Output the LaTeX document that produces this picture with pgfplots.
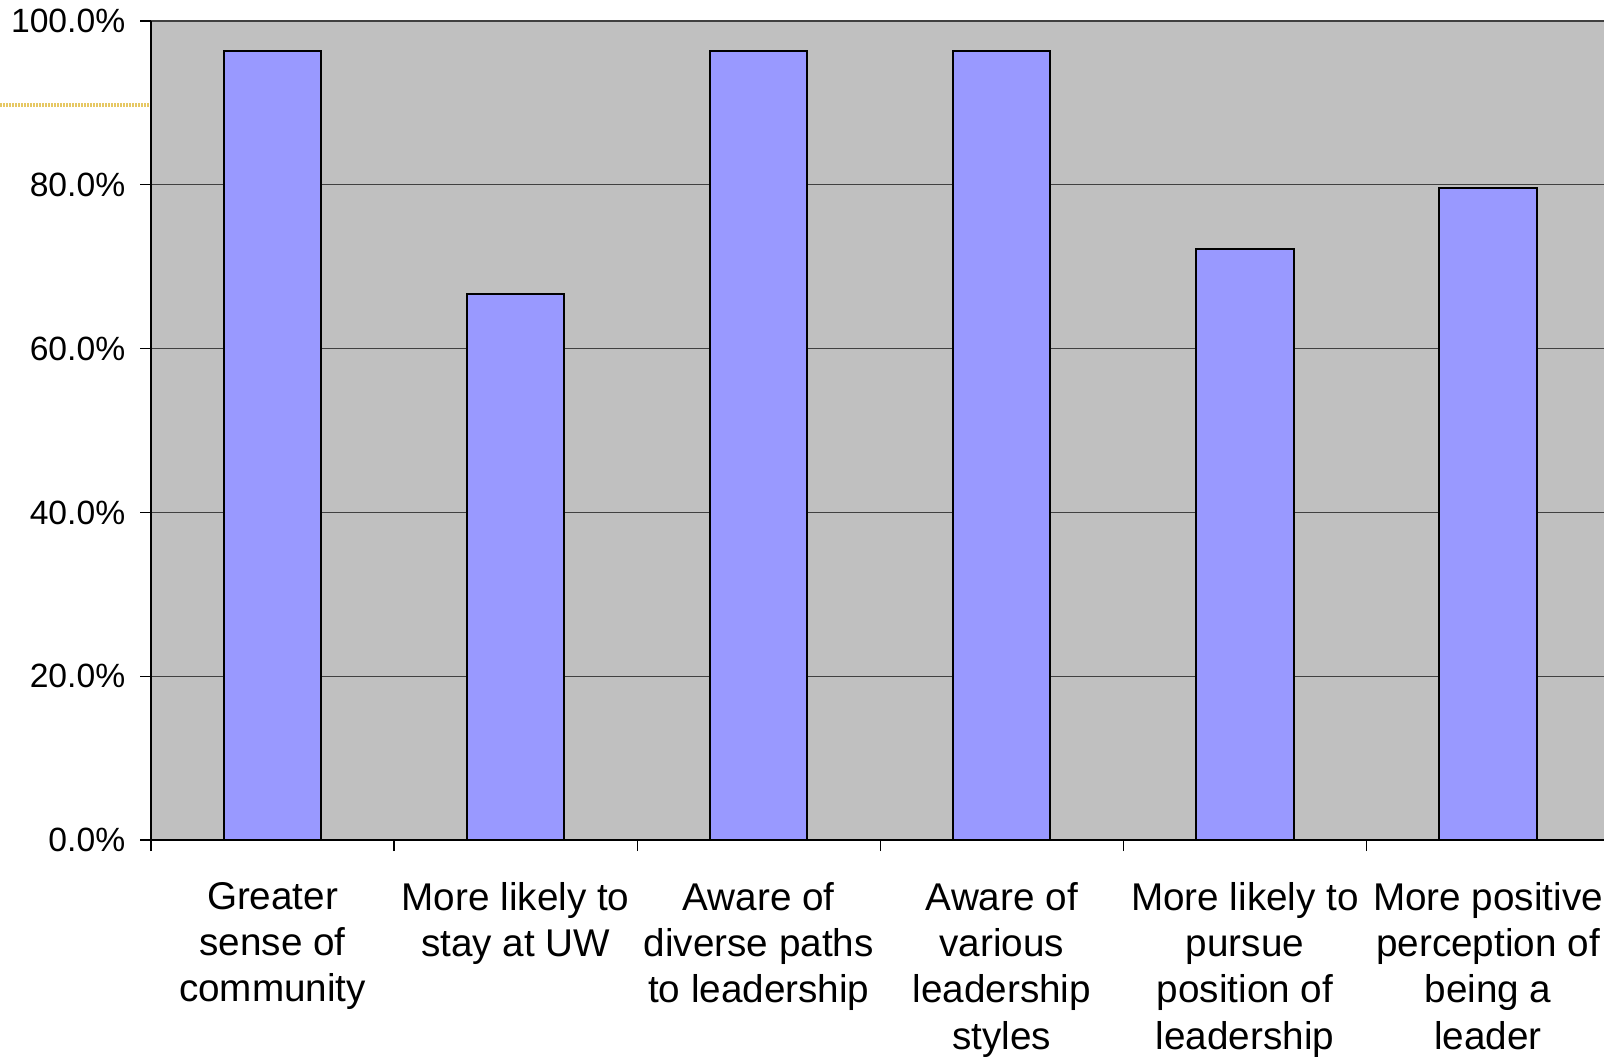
\documentclass[border=0pt]{standalone}
\usepackage{pgfplots}
\pgfplotsset{compat=1.18}
\usepackage{fontspec}
\setmainfont{Liberation Sans}
\definecolor{plotbg}{RGB}{192,192,192}
\definecolor{barfill}{RGB}{153,153,255}
\definecolor{gold}{RGB}{230,200,100}
\begin{document}
\begin{tikzpicture}
\path[use as bounding box, clip] (-45.3pt,-64.8pt) rectangle (435.9pt,252pt);
\draw[gold, line width=1pt, dash pattern=on 0.6pt off 0.3pt] (-45.3pt,220.5pt) -- (0pt,220.5pt);
\begin{axis}[
  scale only axis, width=435.9pt, height=245.7pt,
  xmin=-0.5, xmax=5.477, ymin=0, ymax=100,
  axis lines*=left,
  axis line style={black, line width=0.4pt},
  axis background/.style={fill=plotbg},
  ytick={0,20,...,100},
  yticklabel={\pgfmathprintnumber[fixed,fixed zerofill,precision=1]{\tick}\%},
  /pgf/number format/assume math mode=true,
  yticklabel style={font=\fontsize{10.1}{12}\selectfont, xshift=-0.9pt},
  ymajorgrids, grid style={black!75, line width=0.4pt},
  tick align=outside, tick pos=left,
  major tick length=3.3pt,
  tick style={black, line width=0.4pt},
  xtick={-0.5,0.5,...,4.5},
  xticklabels={},
  extra x ticks={0,1,2,3,4,5},
  extra x tick labels={{Greater\\sense of\\community},{More likely to\\stay at UW},{Aware of\\diverse paths\\to leadership},{Aware of\\various\\leadership\\styles},{More likely to\\pursue\\position of\\leadership},{More positive\\perception of\\being a\\leader}},
  extra x tick style={major tick length=0pt, grid=none,
    xticklabel style={align=center, font=\fontsize{11.6}{13.9}\selectfont, yshift=-9.1pt}},
]
\addplot[ybar, bar width=0.4, fill=barfill, draw=black, line width=0.6pt] coordinates {(0,96.3) (1,66.7) (2,96.3) (3,96.3) (4,72.2) (5,79.6)};
\end{axis}
\end{tikzpicture}
\end{document}
